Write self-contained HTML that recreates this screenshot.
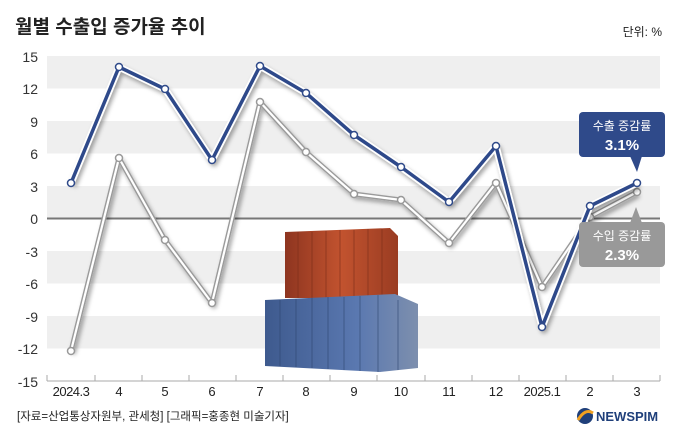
<!DOCTYPE html>
<html><head><meta charset="utf-8"><style>
body{margin:0;background:#fff;}
svg{display:block;font-family:"Liberation Sans","Noto Sans CJK KR",sans-serif;}
</style></head><body>
<svg width="680" height="442" viewBox="0 0 680 442">
<defs>
<filter id="sh" x="-10%" y="-10%" width="120%" height="130%"><feDropShadow dx="2" dy="3" stdDeviation="2" flood-color="#000" flood-opacity="0.35"/></filter>
<linearGradient id="rg" x1="0" x2="1"><stop offset="0" stop-color="#8e3520"/><stop offset="0.5" stop-color="#c2532f"/><stop offset="1" stop-color="#9a3c22"/></linearGradient>
<linearGradient id="bg" x1="0" x2="1"><stop offset="0" stop-color="#3e5a8e"/><stop offset="0.6" stop-color="#5a78b0"/><stop offset="1" stop-color="#7d8fae"/></linearGradient>
</defs>
<text x="15" y="33" font-size="19" font-weight="bold" fill="#222">월별 수출입 증가율 추이</text>
<text x="662" y="36" font-size="12" fill="#222" text-anchor="end">단위: %</text>
<g fill="#efefef">
<rect x="47" y="56" width="613" height="32.5"/>
<rect x="47" y="121" width="613" height="32.5"/>
<rect x="47" y="186" width="613" height="32.5"/>
<rect x="47" y="251" width="613" height="32.5"/>
<rect x="47" y="316" width="613" height="32.5"/>
</g>
<line x1="47" y1="218.5" x2="660" y2="218.5" stroke="#777" stroke-width="2"/>
<line x1="47" y1="381" x2="660" y2="381" stroke="#aaa"/>
<g stroke="#aaa"><line x1="47" y1="375" x2="47" y2="381"/><line x1="95" y1="375" x2="95" y2="381"/><line x1="142" y1="375" x2="142" y2="381"/><line x1="189" y1="375" x2="189" y2="381"/><line x1="236" y1="375" x2="236" y2="381"/><line x1="283" y1="375" x2="283" y2="381"/><line x1="330" y1="375" x2="330" y2="381"/><line x1="377" y1="375" x2="377" y2="381"/><line x1="425" y1="375" x2="425" y2="381"/><line x1="472" y1="375" x2="472" y2="381"/><line x1="519" y1="375" x2="519" y2="381"/><line x1="566" y1="375" x2="566" y2="381"/><line x1="613" y1="375" x2="613" y2="381"/><line x1="660" y1="375" x2="660" y2="381"/></g>
<g font-size="14" fill="#333" text-anchor="end">
<text x="38" y="62">15</text><text x="38" y="94">12</text><text x="38" y="127">9</text><text x="38" y="159">6</text><text x="38" y="192">3</text><text x="38" y="224">0</text><text x="38" y="257">-3</text><text x="38" y="289">-6</text><text x="38" y="322">-9</text><text x="38" y="354">-12</text><text x="38" y="387">-15</text>
</g>
<g font-size="13" fill="#222" text-anchor="middle">
<text x="71" y="396" letter-spacing="-0.5">2024.3</text><text x="119" y="396">4</text><text x="165" y="396">5</text><text x="212" y="396">6</text><text x="260" y="396">7</text><text x="306" y="396">8</text><text x="354" y="396">9</text><text x="401" y="396">10</text><text x="449" y="396">11</text><text x="496" y="396">12</text><text x="542" y="396" letter-spacing="-0.5">2025.1</text><text x="590" y="396">2</text><text x="637" y="396">3</text>
</g>
<g>
<polygon points="285,232 390,228 398,236 398,298 285,298" fill="url(#rg)"/>
<g stroke="#7a2c18" stroke-width="1" opacity="0.6"><line x1="298" y1="232" x2="298" y2="298"/><line x1="312" y1="232" x2="312" y2="298"/><line x1="326" y1="231" x2="326" y2="298"/><line x1="340" y1="230" x2="340" y2="298"/><line x1="354" y1="230" x2="354" y2="298"/><line x1="368" y1="229" x2="368" y2="298"/><line x1="382" y1="229" x2="382" y2="298"/></g>
<polygon points="265,300 395,294 418,304 418,368 380,372 265,366" fill="url(#bg)"/>
<g stroke="#2e4670" stroke-width="1" opacity="0.6"><line x1="280" y1="300" x2="280" y2="366"/><line x1="296" y1="299" x2="296" y2="367"/><line x1="312" y1="298" x2="312" y2="368"/><line x1="328" y1="297" x2="328" y2="369"/><line x1="344" y1="297" x2="344" y2="370"/><line x1="360" y1="296" x2="360" y2="371"/><line x1="378" y1="295" x2="378" y2="372"/><line x1="398" y1="300" x2="398" y2="370"/></g>
</g>
<g filter="url(#sh)">
<polyline points="71,351 119,158 165,240 212,303 260,102 306,152 354,194 401,200 449,243 496,183 542,287 590,217 637,192" fill="none" stroke="#9a9a9a" stroke-width="5" stroke-linejoin="round"/>
<polyline points="71,351 119,158 165,240 212,303 260,102 306,152 354,194 401,200 449,243 496,183 542,287 590,217 637,192" fill="none" stroke="#fff" stroke-width="2.2" stroke-linejoin="round"/>
</g>
<g fill="#fff" stroke="#999" stroke-width="1.5"><circle cx="71" cy="351" r="3.5"/><circle cx="119" cy="158" r="3.5"/><circle cx="165" cy="240" r="3.5"/><circle cx="212" cy="303" r="3.5"/><circle cx="260" cy="102" r="3.5"/><circle cx="306" cy="152" r="3.5"/><circle cx="354" cy="194" r="3.5"/><circle cx="401" cy="200" r="3.5"/><circle cx="449" cy="243" r="3.5"/><circle cx="496" cy="183" r="3.5"/><circle cx="542" cy="287" r="3.5"/><circle cx="590" cy="217" r="3.5"/><circle cx="637" cy="192" r="3.5"/></g>
<g filter="url(#sh)">
<polyline points="71,183 119,67 165,89 212,160 260,66 306,93 354,135 401,167 449,202 496,146 542,327 590,206 637,183" fill="none" stroke="#fff" stroke-width="7" stroke-linejoin="round"/>
<polyline points="71,183 119,67 165,89 212,160 260,66 306,93 354,135 401,167 449,202 496,146 542,327 590,206 637,183" fill="none" stroke="#2f4a8a" stroke-width="3.5" stroke-linejoin="round"/>
</g>
<g fill="#fff" stroke="#2f4a8a" stroke-width="1.5"><circle cx="71" cy="183" r="3.5"/><circle cx="119" cy="67" r="3.5"/><circle cx="165" cy="89" r="3.5"/><circle cx="212" cy="160" r="3.5"/><circle cx="260" cy="66" r="3.5"/><circle cx="306" cy="93" r="3.5"/><circle cx="354" cy="135" r="3.5"/><circle cx="401" cy="167" r="3.5"/><circle cx="449" cy="202" r="3.5"/><circle cx="496" cy="146" r="3.5"/><circle cx="542" cy="327" r="3.5"/><circle cx="590" cy="206" r="3.5"/><circle cx="637" cy="183" r="3.5"/></g>
<rect x="579" y="112" width="86" height="45" rx="4" fill="#2f4a8a"/>
<polygon points="630,156 642,156 637,172" fill="#2f4a8a"/>
<text x="622" y="130" font-size="12" fill="#fff" text-anchor="middle">수출 증감률</text>
<text x="622" y="150" font-size="15" font-weight="bold" fill="#fff" text-anchor="middle">3.1%</text>
<rect x="579" y="222" width="86" height="45" rx="4" fill="#999"/>
<polygon points="630,223 642,223 636,207" fill="#999"/>
<text x="622" y="240" font-size="12" fill="#fff" text-anchor="middle">수입 증감률</text>
<text x="622" y="260" font-size="15" font-weight="bold" fill="#fff" text-anchor="middle">2.3%</text>
<text x="17" y="420" font-size="11.5" fill="#222">[자료=산업통상자원부, 관세청] [그래픽=홍종현 미술기자]</text>
<circle cx="585" cy="416" r="8" fill="#1f3f7a"/>
<path d="M578,420 Q585,408 593,413" stroke="#f0a020" stroke-width="3" fill="none"/>
<text x="596" y="421" font-size="13" font-weight="bold" fill="#1f3f7a">NEWSPIM</text>
</svg>
</body></html>
